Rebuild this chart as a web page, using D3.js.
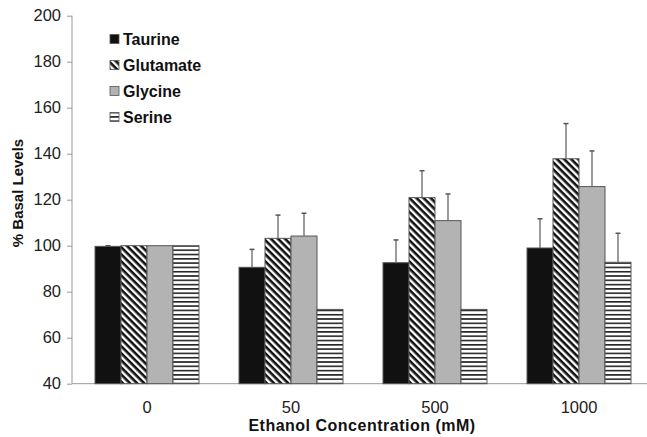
<!DOCTYPE html>
<html><head><meta charset="utf-8">
<script src="https://cdn.jsdelivr.net/npm/d3@7/dist/d3.min.js"></script>
<style>body{margin:0;background:#fff}svg{display:block}text{font-family:Arial,"Liberation Sans",sans-serif}</style>
</head><body><svg id="c" width="647" height="437"></svg>
<script>
const categories = ["0", "50", "500", "1000"];
const seriesNames = ["Taurine", "Glutamate", "Glycine", "Serine"];
const taurine   = [99.7, 90.6, 92.6, 99.0];
const glutamate = [100, 103.2, 120.9, 137.8];
const glycine   = [100, 104.2, 110.9, 125.7];
const serine    = [100, 72.3, 72.3, 92.8];
const taurineErr   = [0.3, 7.8, 9.9, 12.7];
const glutamateErr = [0, 10.1, 11.7, 15.3];
const glycineErr   = [0, 9.9, 11.6, 15.5];
const serineErr    = [0, 0, 0, 12.6];
const yTicks = [40, 60, 80, 100, 120, 140, 160, 180, 200];

const values = [taurine, glutamate, glycine, serine];
const errs = [taurineErr, glutamateErr, glycineErr, serineErr];
const fills = ["#111", "url(#diag)", "#b3b3b3", "url(#horiz)"];

const svg = d3.select("#c");
const defs = svg.append("defs");
const pd = defs.append("pattern").attr("id","diag").attr("patternUnits","userSpaceOnUse")
  .attr("width",5).attr("height",5).attr("patternTransform","rotate(45)");
pd.append("rect").attr("width",5).attr("height",5).attr("fill","#fff");
pd.append("rect").attr("width",5).attr("height",2.6).attr("fill","#111");
const ph = defs.append("pattern").attr("id","horiz").attr("patternUnits","userSpaceOnUse")
  .attr("width",4).attr("height",4.3);
ph.append("rect").attr("width",4).attr("height",4.3).attr("fill","#fff");
ph.append("rect").attr("width",4).attr("height",1.6).attr("fill","#222");

const axX = 72;
const y = d3.scaleLinear().domain([40, 200]).range([383.7, 15.7]);
const x0 = d3.scaleBand().domain(categories).range([75, 651]).paddingInner(0.278).paddingOuter(0.139);
const x1 = d3.scaleBand().domain(seriesNames).range([0, x0.bandwidth()]);

// y axis
const yAxis = svg.append("g").attr("transform", `translate(${axX},0)`)
  .call(d3.axisLeft(y).tickValues(yTicks).tickSize(5).tickPadding(6));
yAxis.select(".domain").attr("stroke","#999").attr("d", `M0,${y(200)}V${y(40)}`);
yAxis.selectAll(".tick line").attr("stroke","#999");
yAxis.selectAll(".tick text").attr("font-size",16.5).attr("fill","#222").attr("font-family","Arial, 'Liberation Sans', sans-serif");

// x axis line
svg.append("line").attr("x1",axX).attr("x2",647).attr("y1",y(40)).attr("y2",y(40)).attr("stroke","#999");

// x tick labels
svg.append("g").selectAll("text").data(categories).join("text")
  .attr("x", d => x0(d) + x0.bandwidth()/2).attr("y", 413)
  .attr("text-anchor","middle").attr("font-size",16.5).attr("fill","#222").text(d => d);

// bars
const groups = svg.append("g").selectAll("g").data(categories).join("g")
  .attr("transform", d => `translate(${x0(d)},0)`);
seriesNames.forEach((s, si) => {
  groups.append("rect")
    .attr("x", x1(s)).attr("width", x1.bandwidth())
    .attr("y", (d, i) => y(values[si][i]))
    .attr("height", (d, i) => y(40) - y(values[si][i]))
    .attr("fill", fills[si]).attr("stroke", "#555").attr("stroke-width", 1);
  groups.each(function(d, i) {
    const e = errs[si][i];
    if (e <= 0) return;
    const cx = x1(s) + x1.bandwidth()/2;
    const g = d3.select(this);
    g.append("line").attr("x1",cx).attr("x2",cx)
      .attr("y1", y(values[si][i])).attr("y2", y(values[si][i] + e)).attr("stroke","#666").attr("stroke-width",1.3);
    g.append("line").attr("x1",cx-2.5).attr("x2",cx+2.5)
      .attr("y1", y(values[si][i] + e)).attr("y2", y(values[si][i] + e)).attr("stroke","#555").attr("stroke-width",1.5);
  });
});

// legend
const lg = svg.append("g");
seriesNames.forEach((s, i) => {
  const cy = 39 + i * 26;
  lg.append("rect").attr("x",110).attr("y",cy-4.5).attr("width",9).attr("height",9)
    .attr("fill", fills[i]).attr("stroke","#555").attr("stroke-width",0.8);
  lg.append("text").attr("x",123).attr("y",cy+6).attr("font-size",16).attr("font-weight","bold").attr("fill","#111").text(s);
});

// axis titles
svg.append("text").attr("transform","translate(23,193) rotate(-90)")
  .attr("text-anchor","middle").attr("font-size",15).attr("font-weight","bold").attr("fill","#111").text("% Basal Levels");
svg.append("text").attr("x",362).attr("y",431).attr("text-anchor","middle")
  .attr("font-size",16).attr("font-weight","bold").attr("letter-spacing",0.5).attr("fill","#111").text("Ethanol Concentration (mM)");
</script></body></html>
